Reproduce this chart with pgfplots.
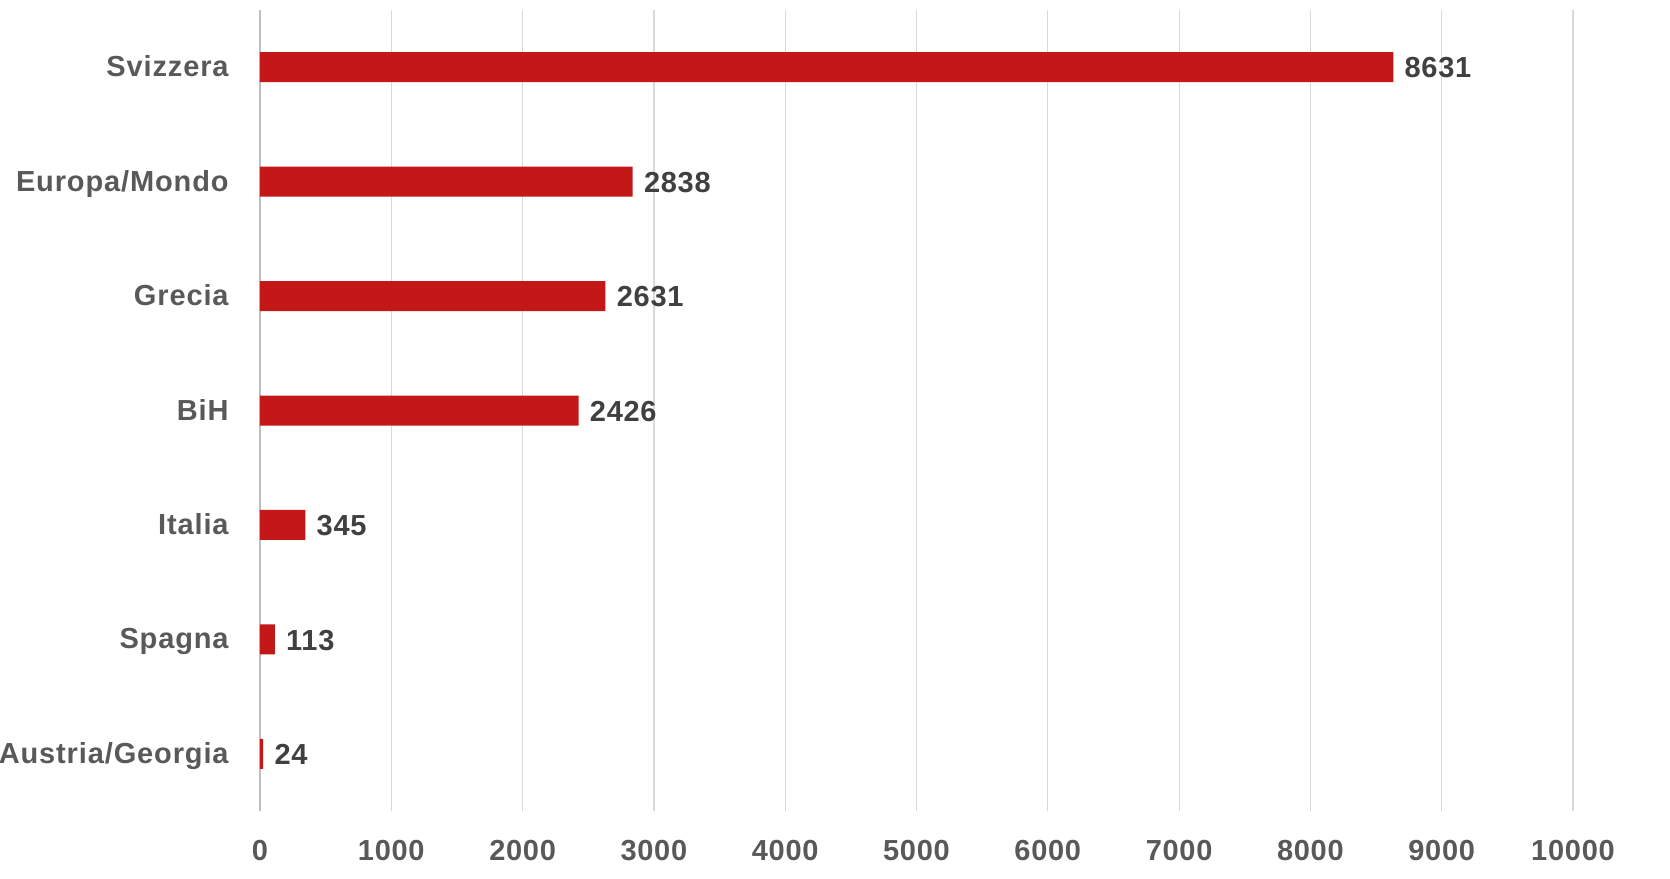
\documentclass[border=0pt]{standalone}
\usepackage{pgfplots}
\pgfplotsset{compat=1.18}
\usepackage{fontspec}
\setmainfont{Liberation Sans}
\newfontfamily\lblfont{Liberation Sans}[LetterSpace=3]
\newfontfamily\numfont{Liberation Sans}[LetterSpace=2.5]
\definecolor{barred}{RGB}{196,23,24}
\definecolor{lblgrey}{RGB}{89,89,89}
\definecolor{datgrey}{RGB}{64,64,64}
\definecolor{gridgrey}{RGB}{217,217,217}
\definecolor{axgrey}{RGB}{191,191,191}
\begin{document}
\begin{tikzpicture}
\begin{axis}[
  name=ax,
  at={(0,0)}, anchor=south west,
  scale only axis,
  width=656.5pt, height=400.5pt,
  xbar, bar width=15pt,
  xmin=0, xmax=10000,
  ymin=-0.5, ymax=6.5,
  xtick={1000,2000,...,10000},
  extra x ticks={0},
  extra x tick labels={0},
  extra x tick style={grid style={axgrey, line width=1pt}},
  ytick={0,1,2,3,4,5,6},
  yticklabels={Austria/Georgia,Spagna,Italia,BiH,Grecia,Europa/Mondo,Svizzera},
  axis line style={draw=none},
  major tick length=0pt,
  xmajorgrids, grid style={gridgrey, line width=0.6pt},
  scaled x ticks=false,
  /pgf/number format/1000 sep={},
  /pgf/number format/assume math mode=true,
  xticklabel style={font=\fontsize{14.5}{17}\numfont\bfseries, text=lblgrey, anchor=base, inner sep=0pt, yshift=-24.75pt},
  yticklabel style={font=\fontsize{14.5}{17}\lblfont\bfseries, text=lblgrey, anchor=base east, inner sep=0pt, xshift=-15.5pt, yshift=-4.8pt},
  nodes near coords,
  nodes near coords style={font=\fontsize{14.5}{17}\numfont\bfseries, text=datgrey, anchor=base west, inner sep=0pt, xshift=5.5pt, yshift=-5.35pt},
  clip=false,
]
\addplot[fill=barred, draw=none] coordinates {
  (24,0) (113,1) (345,2) (2426,3) (2631,4) (2838,5) (8631,6)
};
\end{axis}
\pgfresetboundingbox
\path (ax.south west) ++(-130pt,-33.5pt) rectangle ++(835pt,439pt);
\end{tikzpicture}
\end{document}
